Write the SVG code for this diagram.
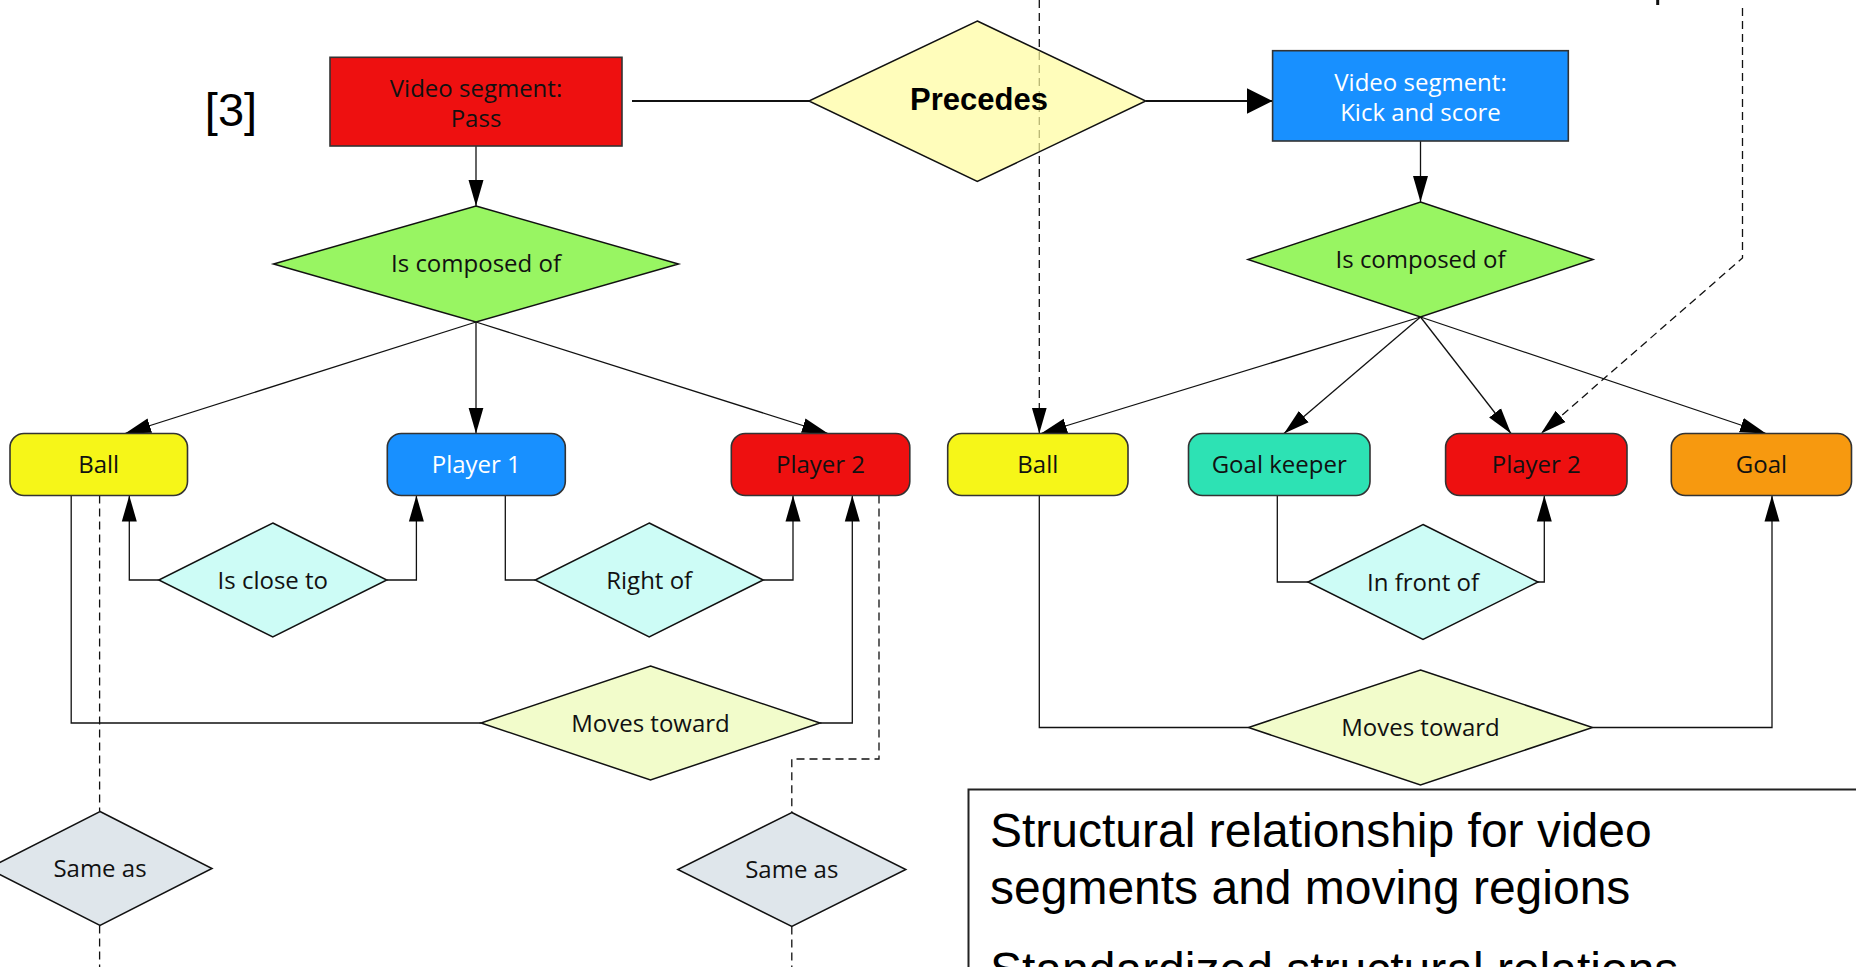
<svg xmlns="http://www.w3.org/2000/svg" width="1856" height="967" viewBox="0 0 1856 967">
<style>
.bg{fill:#ffffff}
.lbl{font-family:"Open Sans","Noto Sans","DejaVu Sans",sans-serif;font-size:24px;text-anchor:middle;fill:#111}
.w{fill:#ffffff}
.box{stroke:#333;stroke-width:1.6}
.dia{stroke:#111;stroke-width:1.5}
.c{fill:none;stroke:#111;stroke-width:1.3}
.d{fill:none;stroke:#111;stroke-width:1.3;stroke-dasharray:8,5}
.cap{font-family:"Liberation Sans",Arial,sans-serif;font-size:48px;fill:#000}
</style>
<defs>
<marker id="arr" markerUnits="userSpaceOnUse" viewBox="0 0 26 16" markerWidth="26" markerHeight="16" refX="26" refY="8" orient="auto"><path d="M0,0.5 L26,8 L0,15.5 z" fill="#000"/></marker>
<marker id="big" markerUnits="userSpaceOnUse" viewBox="0 0 26 26" markerWidth="26" markerHeight="26" refX="26" refY="13" orient="auto"><path d="M0,0 L26,13 L0,26 z" fill="#000"/></marker>
</defs>
<rect class="bg" x="0" y="0" width="1856" height="967"/>
<g id="connectors">
<line class="c" x1="632" y1="101" x2="809" y2="101" style="stroke-width:2"/>
<line class="c" x1="1145.7" y1="101" x2="1272.6" y2="101" style="stroke-width:2" marker-end="url(#big)"/>
<line class="c" x1="476" y1="146" x2="476" y2="206" marker-end="url(#arr)"/>
<line class="c" x1="1420.5" y1="141" x2="1420.5" y2="202" marker-end="url(#arr)"/>
<line class="c" x1="476" y1="322" x2="125" y2="433.5" marker-end="url(#arr)"/>
<line class="c" x1="476" y1="322" x2="476" y2="433.5" marker-end="url(#arr)"/>
<line class="c" x1="476" y1="322" x2="828" y2="433.5" marker-end="url(#arr)"/>
<polyline class="c" points="158.8,580 129.3,580 129.3,495.5" marker-end="url(#arr)"/>
<polyline class="c" points="386.8,580 416.4,580 416.4,495.5" marker-end="url(#arr)"/>
<polyline class="c" points="505.3,495.5 505.3,580 535.2,580"/>
<polyline class="c" points="763.2,580 793,580 793,495.5" marker-end="url(#arr)"/>
<polyline class="c" points="71.2,495.5 71.2,723 481,723"/>
<polyline class="c" points="820,723 852.3,723 852.3,495.5" marker-end="url(#arr)"/>
<line class="d" x1="99.6" y1="495.5" x2="99.6" y2="811.5"/>
<line class="d" x1="99.6" y1="925.5" x2="99.6" y2="967"/>
<polyline class="d" points="879,495.5 879,759 791.8,759 791.8,812.5"/>
<line class="d" x1="791.8" y1="926.5" x2="791.8" y2="967"/>
<line class="c" x1="1420.5" y1="317" x2="1041" y2="433.5" marker-end="url(#arr)"/>
<line class="c" x1="1420.5" y1="317" x2="1284" y2="433.5" marker-end="url(#arr)"/>
<line class="c" x1="1420.5" y1="317" x2="1511" y2="433.5" marker-end="url(#arr)"/>
<line class="c" x1="1420.5" y1="317" x2="1766" y2="433.5" marker-end="url(#arr)"/>
<polyline class="c" points="1277.3,495.5 1277.3,582 1308,582"/>
<polyline class="c" points="1538,582 1544.3,582 1544.3,495.5" marker-end="url(#arr)"/>
<polyline class="c" points="1039.3,495.5 1039.3,727.5 1248.5,727.5"/>
<polyline class="c" points="1592.5,727.5 1772,727.5 1772,495.5" marker-end="url(#arr)"/>
<line class="d" x1="1039.3" y1="0" x2="1039.3" y2="433.5" marker-end="url(#arr)"/>
<polyline class="d" points="1742.5,8 1742.5,258 1541,433.5" marker-end="url(#arr)"/>
<line class="c" x1="1657.7" y1="0" x2="1657.7" y2="5" style="stroke-width:3"/>
</g>
<g id="label-ref"><text x="231" y="126" style="font-family:'Liberation Sans',Arial,sans-serif;font-size:47px;text-anchor:middle;fill:#000">[3]</text></g>
<g id="seg-pass">
<rect class="box" x="330" y="57.3" width="292" height="88.7" fill="#EE1010"/>
<text class="lbl" x="476" y="96.5">Video segment:</text>
<text class="lbl" x="476" y="126.5">Pass</text>
</g>
<g id="precedes">
<polygon class="dia" points="977.3,21 1145.7,101 977.3,181.5 808.9,101" fill="#FFFC9E" fill-opacity="0.7"/>
<text x="979" y="109.5" style="font-family:'Liberation Sans',Arial,sans-serif;font-size:31px;font-weight:bold;text-anchor:middle;fill:#000">Precedes</text>
</g>
<g id="seg-kick">
<rect class="box" x="1272.6" y="50.7" width="295.7" height="90.3" fill="#1890FF"/>
<text class="lbl w" x="1420.5" y="91">Video segment:</text>
<text class="lbl w" x="1420.5" y="121">Kick and score</text>
</g>
<g id="composed-left">
<polygon class="dia" points="476,206 678.5,264 476,322 273.5,264" fill="#98F562"/>
<text class="lbl" x="476" y="272">Is composed of</text>
</g>
<g id="composed-right">
<polygon class="dia" points="1420.5,202 1593,259.5 1420.5,317 1248,259.5" fill="#98F562"/>
<text class="lbl" x="1420.5" y="268">Is composed of</text>
</g>
<g id="ball-left">
<rect class="box" x="10" y="433.5" width="177.5" height="62" rx="14" fill="#F6F618"/>
<text class="lbl" x="98.7" y="473">Ball</text>
</g>
<g id="player1-left">
<rect class="box" x="387.3" y="433.5" width="178" height="62" rx="14" fill="#1890FF"/>
<text class="lbl w" x="476.3" y="473">Player 1</text>
</g>
<g id="player2-left">
<rect class="box" x="731.3" y="433.5" width="178.5" height="62" rx="14" fill="#EE1010"/>
<text class="lbl" x="820.5" y="473">Player 2</text>
</g>
<g id="ball-right">
<rect class="box" x="947.7" y="433.5" width="180.3" height="62" rx="14" fill="#F6F618"/>
<text class="lbl" x="1037.8" y="473">Ball</text>
</g>
<g id="goalkeeper-right">
<rect class="box" x="1188.5" y="433.5" width="181.5" height="62" rx="14" fill="#2DE2B4"/>
<text class="lbl" x="1279.2" y="473">Goal keeper</text>
</g>
<g id="player2-right">
<rect class="box" x="1445.6" y="433.5" width="181.4" height="62" rx="14" fill="#EE1010"/>
<text class="lbl" x="1536.3" y="473">Player 2</text>
</g>
<g id="goal-right">
<rect class="box" x="1671.3" y="433.5" width="180.2" height="62" rx="14" fill="#F7990F"/>
<text class="lbl" x="1761.4" y="473">Goal</text>
</g>
<g id="isclose">
<polygon class="dia" points="272.8,523 386.8,580 272.8,637 158.8,580" fill="#CDFCF6"/>
<text class="lbl" x="272.8" y="588.5">Is close to</text>
</g>
<g id="rightof">
<polygon class="dia" points="649.2,523 763.2,580 649.2,637 535.2,580" fill="#CDFCF6"/>
<text class="lbl" x="649.2" y="588.5">Right of</text>
</g>
<g id="infront">
<polygon class="dia" points="1423,524.5 1538,582 1423,639.5 1308,582" fill="#CDFCF6"/>
<text class="lbl" x="1423" y="590.5">In front of</text>
</g>
<g id="moves-left">
<polygon class="dia" points="650.5,666 820,723 650.5,780 481,723" fill="#F2FCCB"/>
<text class="lbl" x="650.5" y="731.5">Moves toward</text>
</g>
<g id="moves-right">
<polygon class="dia" points="1420.5,670 1592.5,727.5 1420.5,785 1248.5,727.5" fill="#F2FCCB"/>
<text class="lbl" x="1420.5" y="736">Moves toward</text>
</g>
<g id="same-left">
<polygon class="dia" points="100,811.5 212,868.5 100,925.5 -12,868.5" fill="#DFE6EB"/>
<text class="lbl" x="100" y="877">Same as</text>
</g>
<g id="same-right">
<polygon class="dia" points="791.8,812.5 905.8,869.5 791.8,926.5 677.8,869.5" fill="#DFE6EB"/>
<text class="lbl" x="791.8" y="878">Same as</text>
</g>
<g id="caption">
<rect x="968.5" y="789.5" width="900" height="200" fill="#ffffff" stroke="#222" stroke-width="2"/>
<text class="cap" x="990" y="847">Structural relationship for video</text>
<text class="cap" x="990" y="904">segments and moving regions</text>
<text class="cap" x="990" y="986">Standardized structural relations</text>
</g>
</svg>
